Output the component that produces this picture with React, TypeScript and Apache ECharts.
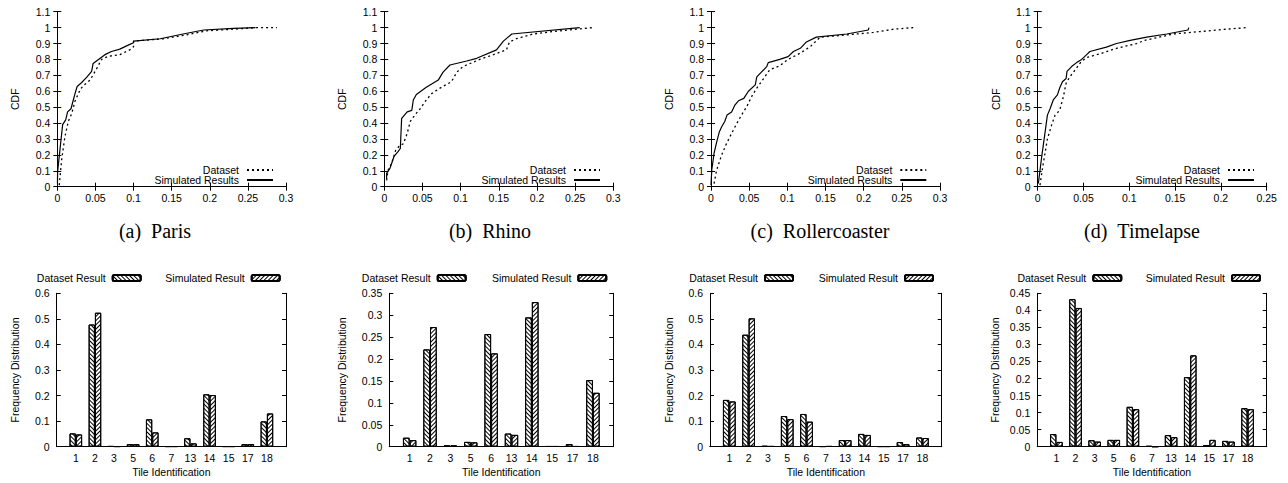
import React, { useEffect, useRef } from "react";
import * as echarts from "echarts";

// ---------- DATA ----------
const captions = ["(a)\u00a0\u00a0Paris", "(b)\u00a0\u00a0Rhino", "(c)\u00a0\u00a0Rollercoaster", "(d)\u00a0\u00a0Timelapse"];
const cdfXMax = [0.3, 0.3, 0.3, 0.25];
const cdfYTicksMax = 1.1;

const parisDataset: [number, number][] = [[0.0026,0.01],[0.0057,0.17],[0.01,0.315],[0.0144,0.41],[0.019,0.46],[0.023,0.535],[0.03,0.61],[0.034,0.635],[0.043,0.67],[0.052,0.745],[0.058,0.8],[0.067,0.82],[0.082,0.83],[0.095,0.86],[0.1,0.88],[0.1,0.915],[0.139,0.93],[0.17,0.955],[0.196,0.98],[0.231,0.99],[0.262,1.0],[0.288,1.0]];
const parisSimulated: [number, number][] = [[0.0002,0.02],[0.0004,0.095],[0.007,0.39],[0.011,0.42],[0.0135,0.47],[0.018,0.49],[0.021,0.545],[0.023,0.58],[0.026,0.63],[0.032,0.655],[0.039,0.69],[0.045,0.725],[0.047,0.775],[0.054,0.8],[0.0625,0.83],[0.071,0.85],[0.082,0.865],[0.093,0.89],[0.1,0.905],[0.1,0.915],[0.135,0.93],[0.165,0.96],[0.192,0.985],[0.231,0.995],[0.26,1.0]];
const rhinoDataset: [number, number][] = [[0.003,0.04],[0.005,0.105],[0.0096,0.147],[0.015,0.23],[0.0205,0.26],[0.025,0.27],[0.03,0.335],[0.034,0.41],[0.04,0.45],[0.047,0.49],[0.055,0.545],[0.062,0.585],[0.073,0.62],[0.088,0.66],[0.095,0.72],[0.103,0.755],[0.125,0.8],[0.143,0.83],[0.16,0.86],[0.164,0.91],[0.173,0.93],[0.195,0.96],[0.23,0.98],[0.274,1.0]];
const rhinoSimulated: [number, number][] = [[0.003,0.05],[0.003,0.084],[0.0074,0.115],[0.0127,0.19],[0.018,0.22],[0.021,0.24],[0.0227,0.43],[0.03,0.47],[0.036,0.48],[0.038,0.545],[0.042,0.58],[0.055,0.625],[0.0707,0.67],[0.077,0.72],[0.086,0.765],[0.108,0.79],[0.121,0.807],[0.147,0.86],[0.156,0.915],[0.167,0.96],[0.256,1.0]];
const rollerDataset: [number, number][] = [[0.004,0.02],[0.0074,0.105],[0.014,0.2],[0.0205,0.273],[0.027,0.335],[0.034,0.4],[0.04,0.45],[0.047,0.505],[0.053,0.565],[0.06,0.62],[0.069,0.68],[0.077,0.735],[0.09,0.76],[0.101,0.8],[0.117,0.84],[0.13,0.88],[0.143,0.94],[0.169,0.95],[0.213,0.97],[0.239,0.99],[0.265,1.0]];
const rollerSimulated: [number, number][] = [[0,0.01],[0.001,0.105],[0.004,0.21],[0.0074,0.28],[0.011,0.346],[0.014,0.377],[0.018,0.41],[0.021,0.45],[0.027,0.47],[0.0315,0.515],[0.036,0.54],[0.043,0.555],[0.049,0.6],[0.058,0.64],[0.06,0.69],[0.066,0.72],[0.073,0.755],[0.075,0.78],[0.09,0.8],[0.101,0.818],[0.108,0.85],[0.117,0.87],[0.125,0.91],[0.138,0.94],[0.178,0.96],[0.206,0.985],[0.207,1.0]];
const timeDataset: [number, number][] = [[0.0025,0.01],[0.0055,0.125],[0.0106,0.3],[0.0153,0.39],[0.019,0.45],[0.024,0.48],[0.028,0.565],[0.031,0.65],[0.035,0.69],[0.041,0.735],[0.048,0.79],[0.055,0.815],[0.068,0.835],[0.086,0.87],[0.108,0.9],[0.117,0.92],[0.148,0.96],[0.177,0.975],[0.206,0.99],[0.228,1.0]];
const timeSimulated: [number, number][] = [[0.0007,0.02],[0.0044,0.19],[0.008,0.34],[0.0106,0.45],[0.0135,0.49],[0.017,0.545],[0.0215,0.577],[0.024,0.62],[0.027,0.66],[0.031,0.68],[0.032,0.725],[0.037,0.755],[0.0425,0.78],[0.048,0.8],[0.0535,0.83],[0.057,0.85],[0.075,0.877],[0.086,0.9],[0.101,0.92],[0.119,0.94],[0.141,0.96],[0.164,0.985],[0.165,1.0]];

const tilesFull = ["1", "2", "3", "5", "6", "7", "13", "14", "15", "17", "18"];
const tilesRhino = ["1", "2", "3", "5", "6", "13", "14", "15", "17", "18"];

const parisDatasetFreq = [0.052, 0.478, 0.002, 0.01, 0.107, 0.001, 0.033, 0.205, 0.001, 0.01, 0.099];
const parisSimulatedFreq = [0.048, 0.524, 0.001, 0.01, 0.056, 0.001, 0.013, 0.202, 0.001, 0.01, 0.13];
const rhinoDatasetFreq = [0.0205, 0.222, 0.003, 0.011, 0.257, 0.03, 0.295, 0.001, 0.006, 0.152];
const rhinoSimulatedFreq = [0.015, 0.273, 0.003, 0.01, 0.213, 0.027, 0.33, 0.001, 0.001, 0.123];
const rollerDatasetFreq = [0.183, 0.438, 0.003, 0.12, 0.128, 0.001, 0.026, 0.05, 0.001, 0.018, 0.036];
const rollerSimulatedFreq = [0.177, 0.502, 0.002, 0.108, 0.098, 0.002, 0.026, 0.046, 0.001, 0.01, 0.034];
const timeDatasetFreq = [0.037, 0.433, 0.019, 0.02, 0.117, 0.002, 0.034, 0.204, 0.005, 0.017, 0.113];
const timeSimulatedFreq = [0.014, 0.407, 0.015, 0.02, 0.11, 0, 0.028, 0.268, 0.02, 0.015, 0.11];

const freqMax = [0.6, 0.35, 0.6, 0.45];
const freqInterval = [0.1, 0.05, 0.1, 0.05];

// ---------- LAYOUT ----------
const W = 1288;
const H = 483;
const FONT = '"Liberation Sans", Arial, Helvetica, sans-serif';
const FS = 10.5;

const topLeft = [57.3, 384.3, 711, 1037.7];
const topRight = [286, 613.3, 940, 1266.7];
const topTop = 11.7;
const topBottom = 186.7;
const topLegendRight = [274, 601, 927.3, 1255];

const botLeft = [56.7, 389.3, 710, 1037.3];
const botRight = [286, 613.3, 941.7, 1266.7];
const botTop = 293.3;
const botBottom = 446.7;
const botNameGap = [36, 41.5, 36, 36.5];
const botSimLegendRight = [280.7, 607.3, 934, 1261];
const botDataLegendRight = [141.7, 466.7, 794, 1122.3];

const captionX = [155, 490, 820, 1142];
const captionY = 231;

const black = "#000";

function buildOption() {
  const cdfSets = [
    [parisDataset, parisSimulated],
    [rhinoDataset, rhinoSimulated],
    [rollerDataset, rollerSimulated],
    [timeDataset, timeSimulated],
  ];
  const freqSets = [
    [tilesFull, parisDatasetFreq, parisSimulatedFreq],
    [tilesRhino, rhinoDatasetFreq, rhinoSimulatedFreq],
    [tilesFull, rollerDatasetFreq, rollerSimulatedFreq],
    [tilesFull, timeDatasetFreq, timeSimulatedFreq],
  ];

  const grid: any[] = [];
  const xAxis: any[] = [];
  const yAxis: any[] = [];
  const series: any[] = [];
  const legend: any[] = [];
  const graphic: any[] = [];

  const labelStyle = { color: black, fontFamily: FONT, fontSize: FS };
  const line = { show: true, lineStyle: { color: black, width: 1 } };
  const tick = { show: true, inside: true, length: 4, lineStyle: { color: black, width: 1 } };

  const hatch = (rot: number) => ({
    symbol: "rect",
    symbolSize: 1,
    color: black,
    backgroundColor: "#fff",
    dashArrayX: [1, 0],
    dashArrayY: [1, 2],
    rotation: rot,
  });

  // top CDF charts
  for (let i = 0; i < 4; i++) {
    const g = grid.length;
    grid.push({ left: topLeft[i], top: topTop, width: topRight[i] - topLeft[i], height: topBottom - topTop, containLabel: false });
    const xi = xAxis.length;
    xAxis.push({
      type: "value", gridIndex: g, position: "bottom", min: 0, max: cdfXMax[i], interval: 0.05,
      axisLine: line, axisTick: tick, splitLine: { show: false },
      axisLabel: { ...labelStyle, margin: 6 },
    });
    xAxis.push({
      type: "value", gridIndex: g, position: "top", min: 0, max: cdfXMax[i], interval: 0.05,
      axisLine: line, axisTick: tick, splitLine: { show: false }, axisLabel: { show: false },
    });
    const yi = yAxis.length;
    yAxis.push({
      type: "value", gridIndex: g, position: "left", min: 0, max: cdfYTicksMax, interval: 0.1,
      axisLine: line, axisTick: tick, splitLine: { show: false },
      axisLabel: { ...labelStyle, margin: 7 },
      name: "CDF", nameLocation: "middle", nameGap: 36.5, nameRotate: 90,
      nameTextStyle: { ...labelStyle },
    });
    yAxis.push({
      type: "value", gridIndex: g, position: "right", min: 0, max: cdfYTicksMax, interval: 0.1,
      axisLine: line, axisTick: tick, splitLine: { show: false }, axisLabel: { show: false },
    });
    const [ds, sim] = cdfSets[i];
    series.push({
      type: "line", name: "Dataset", xAxisIndex: xi, yAxisIndex: yi, data: ds,
      symbol: "none", showSymbol: false, z: 3,
      lineStyle: { color: black, width: 1.3, type: [2, 3] },
      itemStyle: { color: black },
    });
    series.push({
      type: "line", name: "Simulated Results", xAxisIndex: xi, yAxisIndex: yi, data: sim,
      symbol: "none", showSymbol: false, z: 4,
      lineStyle: { color: black, width: 1.2, type: "solid" },
      itemStyle: { color: black },
    });
    const lineLegend = {
      right: W - topLegendRight[i], padding: 0,
      align: "right", itemWidth: 26, itemHeight: 10, selectedMode: false,
      itemStyle: { opacity: 0, color: "transparent", borderWidth: 0 },
      textStyle: { ...labelStyle, padding: [0, 3, 0, 0] },
    };
    legend.push({ ...lineLegend, data: ["Dataset"], top: 164.5 });
    legend.push({ ...lineLegend, data: ["Simulated Results"], top: 174.5 });
    graphic.push({
      type: "text", x: captionX[i], y: captionY,
      style: {
        text: captions[i], fill: black, font: '20px "Liberation Serif", "Times New Roman", serif',
        textAlign: "center", textVerticalAlign: "middle",
      },
    });
  }

  // bottom frequency charts
  for (let i = 0; i < 4; i++) {
    const g = grid.length;
    grid.push({ left: botLeft[i], top: botTop, width: botRight[i] - botLeft[i], height: botBottom - botTop, containLabel: false });
    const [tiles, dsF, simF] = freqSets[i] as [string[], number[], number[]];
    const cats = ["", ...tiles, ""];
    const xi = xAxis.length;
    xAxis.push({
      type: "category", gridIndex: g, position: "bottom", data: cats, boundaryGap: false,
      axisLine: line, axisTick: { show: false }, splitLine: { show: false },
      axisLabel: { ...labelStyle, margin: 6, interval: 0 },
      name: "Tile Identification", nameLocation: "middle", nameGap: 20,
      nameTextStyle: { ...labelStyle },
    });
    xAxis.push({
      type: "category", gridIndex: g, position: "top", data: cats, boundaryGap: false,
      axisLine: line, axisTick: { show: false }, splitLine: { show: false }, axisLabel: { show: false },
    });
    const yi = yAxis.length;
    yAxis.push({
      type: "value", gridIndex: g, position: "left", min: 0, max: freqMax[i], interval: freqInterval[i],
      axisLine: line, axisTick: tick, splitLine: { show: false },
      axisLabel: { ...labelStyle, margin: 7 },
      name: "Frequency Distribution", nameLocation: "middle", nameGap: botNameGap[i], nameRotate: 90,
      nameTextStyle: { ...labelStyle },
    });
    yAxis.push({
      type: "value", gridIndex: g, position: "right", min: 0, max: freqMax[i], interval: freqInterval[i],
      axisLine: line, axisTick: tick, splitLine: { show: false }, axisLabel: { show: false },
    });
    series.push({
      type: "bar", name: "Dataset Result", xAxisIndex: xi, yAxisIndex: yi,
      data: [null, ...dsF, null], barWidth: "33%", barGap: "0%",
      itemStyle: { color: "#fff", borderColor: black, borderWidth: 1, decal: hatch(Math.PI / 4) },
    });
    series.push({
      type: "bar", name: "Simulated Result", xAxisIndex: xi, yAxisIndex: yi,
      data: [null, ...simF, null], barWidth: "33%", barGap: "0%",
      itemStyle: { color: "#fff", borderColor: black, borderWidth: 1, decal: hatch(-Math.PI / 4) },
    });
    legend.push({
      data: ["Dataset Result"], right: W - botDataLegendRight[i], top: 272.5, padding: 0,
      align: "right", itemWidth: 28, itemHeight: 6, selectedMode: false,
      textStyle: { ...labelStyle, padding: [0, 2, 0, 0] },
    });
    legend.push({
      data: ["Simulated Result"], right: W - botSimLegendRight[i], top: 272.5, padding: 0,
      align: "right", itemWidth: 28, itemHeight: 6, selectedMode: false,
      textStyle: { ...labelStyle, padding: [0, 2, 0, 0] },
    });
  }

  return {
    animation: false,
    backgroundColor: "#fff",
    grid, xAxis, yAxis, series, legend, graphic,
  };
}

export default function App() {
  const ref = useRef<HTMLDivElement>(null);
  useEffect(() => {
    if (!ref.current) return;
    const chart = echarts.init(ref.current, undefined, { renderer: "svg", width: W, height: H });
    chart.setOption(buildOption() as any);
    return () => chart.dispose();
  }, []);
  return (
    <div
      ref={ref}
      style={{ position: "fixed", left: 0, top: 0, width: W, height: H, background: "#fff" }}
    />
  );
}
